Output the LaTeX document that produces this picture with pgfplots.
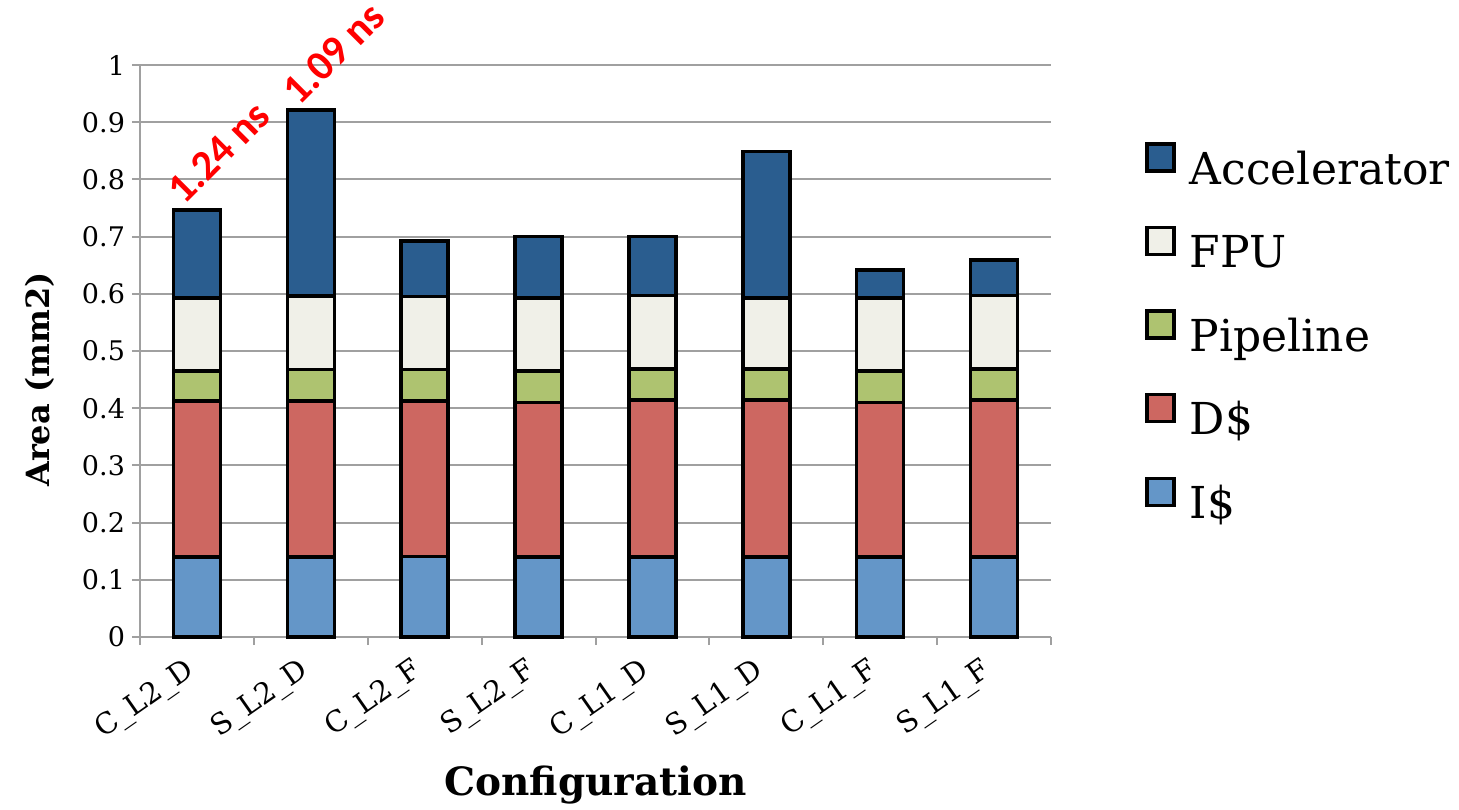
\documentclass[border=0pt]{standalone}
\usepackage{fontspec}
\setmainfont{DejaVu Serif}
\newfontfamily\notefont{Carlito}
\usepackage{pgfplots}
\usepackage{pgfplotstable}
\pgfplotsset{compat=1.18}

\definecolor{accelc}{HTML}{2A5D8F}
\definecolor{fpuc}{HTML}{F0F0E8}
\definecolor{pipec}{HTML}{AEC370}
\definecolor{dcachec}{HTML}{CD6761}
\definecolor{icachec}{HTML}{6496C8}
\definecolor{gridc}{HTML}{A0A0A0}

% area breakdown per configuration (mm2)
\pgfplotstableread{
idx icache dcache pipe  fpu   accel
0   0.140  0.273  0.052 0.128 0.154
1   0.140  0.273  0.055 0.128 0.325
2   0.141  0.272  0.055 0.127 0.097
3   0.140  0.270  0.055 0.128 0.107
4   0.140  0.274  0.055 0.128 0.103
5   0.140  0.274  0.055 0.124 0.256
6   0.140  0.270  0.055 0.128 0.049
7   0.140  0.274  0.055 0.128 0.062
}\areatable

\begin{document}
\begin{tikzpicture}
\begin{axis}[
  scale only axis,
  width=455.5pt, height=286pt,
  ybar stacked, bar width=23.5pt,
  xmin=-0.5, xmax=7.5, ymin=0, ymax=1,
  clip=false,
  axis x line*=bottom, axis y line*=left,
  axis line style={draw=gridc, line width=1pt},
  tick align=outside,
  xtick={0,...,7},
  xticklabels={C\_L2\_D,S\_L2\_D,C\_L2\_F,S\_L2\_F,C\_L1\_D,S\_L1\_D,C\_L1\_F,S\_L1\_F},
  minor xtick={-0.5,0.5,...,7.5},
  major x tick style={draw=none},
  minor x tick style={draw=gridc, line width=1pt},
  minor tick length=4pt,
  major tick length=4pt,
  ytick={0,0.1,0.2,0.3,0.4,0.5,0.6,0.7,0.8,0.9,1},
  yticklabels={0,0.1,0.2,0.3,0.4,0.5,0.6,0.7,0.8,0.9,1},
  y tick style={draw=gridc, line width=1pt},
  ymajorgrids,
  major grid style={draw=gridc, line width=1pt},
  /pgf/number format/assume math mode=true,
  yticklabel style={font=\fontsize{13.5}{16}\selectfont},
  xticklabel style={font=\fontsize{14.5}{17}\selectfont, yshift=-9.5pt, xshift=0pt, rotate=35, anchor=east},
  xlabel={Configuration},
  ylabel={Area (mm2)},
  xlabel style={font=\bfseries\fontsize{19.5}{23}\selectfont, at={(axis description cs:0.5,-0.258)}, anchor=center},
  ylabel style={font=\bfseries\fontsize{16}{20}\selectfont, at={(axis description cs:-0.11,0.45)}, anchor=center, rotate=0},
  reverse legend,
  legend cell align=left,
  legend style={draw=none, fill=none, inner sep=0pt,
    at={(axis description cs:1.103,0.53)}, anchor=west,
    font=\fontsize{22}{26}\selectfont, row sep=17.4pt,
    /tikz/every odd column/.append style={column sep=5pt}},
  legend image code/.code={\draw[#1, line width=1.8pt] (0pt,-1pt) rectangle (13.5pt,12.5pt);},
]
\addplot[fill=icachec, draw=black, line width=1.8pt] table[x=idx, y=icache] {\areatable};
\addlegendentry{I\$}
\addplot[fill=dcachec, draw=black, line width=1.8pt] table[x=idx, y=dcache] {\areatable};
\addlegendentry{D\$}
\addplot[fill=pipec, draw=black, line width=1.8pt] table[x=idx, y=pipe] {\areatable};
\addlegendentry{Pipeline}
\addplot[fill=fpuc, draw=black, line width=1.8pt] table[x=idx, y=fpu] {\areatable};
\addlegendentry{FPU}
\addplot[fill=accelc, draw=black, line width=1.8pt] table[x=idx, y=accel] {\areatable};
\addlegendentry{Accelerator}

\node[font=\notefont\bfseries\fontsize{21}{25}\selectfont, text=red, rotate=45, anchor=base west]
  at (axis cs:-0.15,0.745) {1.24 ns};
\node[font=\notefont\bfseries\fontsize{21}{25}\selectfont, text=red, rotate=45, anchor=base west]
  at (axis cs:0.86,0.918) {1.09 ns};
\end{axis}
\pgfresetboundingbox
\path[use as bounding box] ([xshift=-70pt,yshift=-86pt]current axis.south west)
  rectangle ([xshift=204pt,yshift=32.5pt]current axis.north east);
\end{tikzpicture}
\end{document}
